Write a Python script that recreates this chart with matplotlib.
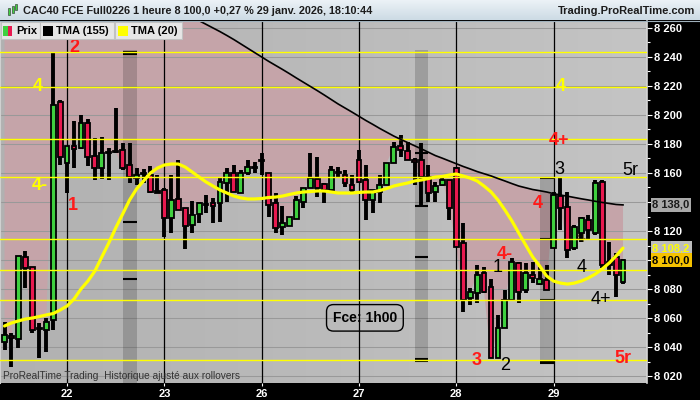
import numpy as np
import matplotlib
matplotlib.use("Agg")
import matplotlib.pyplot as plt
from matplotlib.colors import LinearSegmentedColormap
from matplotlib.patches import Rectangle
from matplotlib.transforms import blended_transform_factory

plt.rcParams["font.family"] = ["Liberation Sans", "DejaVu Sans"]

# bougies horaires CAC40 FCE, du 21 janv. 19h au 29 janv. 18h
opens = [8043.5, 8047.5, 8045.5, 8102.0, 8095.0, 8053.0, 8051.5, 8058.5, 8209.0,
         8167.0, 8178.5, 8177.0, 8194.5, 8171.5, 8163.5, 8174.5, 8175.0, 8176.0,
         8165.5, 8156.5, 8159.5, 8158.5, 8147.0, 8148.5, 8129.0, 8142.0, 8136.0,
         8124.0, 8131.5, 8138.5, 8139.5, 8139.5, 8153.0, 8160.0, 8146.0, 8160.0,
         8163.5, 8169.0, 8160.0, 8139.5, 8122.5, 8123.5, 8128.5, 8140.0, 8149.5,
         8156.0, 8152.5, 8148.5, 8160.5, 8158.5, 8151.5, 8169.0, 8155.0, 8141.5,
         8147.0, 8151.5, 8167.0, 8178.5, 8175.0, 8169.0, 8169.0, 8157.0, 8147.0,
         8151.5, 8155.0, 8163.5, 8112.0, 8074.0, 8077.0, 8091.0, 8081.5, 8032.5,
         8053.0, 8072.5, 8098.0, 8079.5, 8089.5, 8083.5, 8086.0, 8108.5, 8144.0,
         8136.5, 8108.5, 8118.5, 8127.5, 8118.5, 8153.5, 8098.5, 8102.0, 8084.5]
highs = [8057.0, 8049.5, 8102.5, 8106.0, 8095.0, 8056.5, 8060.0, 8242.5, 8210.5,
         8178.5, 8196.0, 8200.0, 8197.0, 8184.0, 8184.5, 8177.0, 8205.0, 8180.5,
         8180.5, 8163.5, 8162.5, 8165.0, 8158.5, 8149.5, 8158.5, 8169.0, 8136.0,
         8140.5, 8140.0, 8145.0, 8143.0, 8157.0, 8163.5, 8165.5, 8162.0, 8169.0,
         8167.5, 8174.0, 8160.0, 8146.0, 8137.0, 8129.5, 8144.0, 8149.5, 8174.0,
         8171.0, 8153.0, 8165.0, 8164.0, 8162.0, 8158.5, 8176.0, 8165.5, 8148.5,
         8158.5, 8167.0, 8181.5, 8186.0, 8181.5, 8170.5, 8180.5, 8165.5, 8154.0,
         8157.0, 8155.0, 8164.0, 8125.5, 8080.5, 8096.5, 8095.0, 8087.0, 8062.0,
         8079.5, 8101.5, 8098.5, 8098.0, 8098.5, 8095.0, 8096.5, 8147.0, 8156.5,
         8147.0, 8124.0, 8129.5, 8131.0, 8155.0, 8155.0, 8112.5, 8105.0, 8100.5]
lows = [8038.0, 8026.0, 8039.5, 8080.5, 8049.5, 8032.5, 8036.5, 8051.5, 8165.5,
        8146.0, 8163.5, 8176.5, 8165.0, 8155.0, 8156.0, 8155.0, 8174.0, 8162.0,
        8153.0, 8151.5, 8153.0, 8146.0, 8146.0, 8116.0, 8118.5, 8134.5, 8107.5,
        8118.5, 8125.5, 8132.5, 8125.5, 8126.0, 8140.0, 8147.0, 8146.0, 8158.5,
        8160.0, 8158.5, 8129.5, 8118.5, 8117.0, 8123.5, 8128.5, 8136.0, 8149.5,
        8143.5, 8139.5, 8148.5, 8156.5, 8150.5, 8147.0, 8153.0, 8127.5, 8132.5,
        8139.5, 8151.5, 8167.0, 8171.0, 8169.0, 8151.5, 8137.0, 8140.0, 8140.0,
        8151.0, 8127.5, 8109.0, 8064.0, 8069.0, 8070.5, 8077.0, 8032.5, 8032.5,
        8053.0, 8072.5, 8070.5, 8077.0, 8084.0, 8082.5, 8079.5, 8108.5, 8120.5,
        8101.5, 8107.0, 8112.5, 8113.5, 8117.0, 8094.5, 8089.5, 8074.5, 8083.5]
closes = [8048.5, 8046.0, 8102.5, 8094.5, 8051.5, 8052.5, 8057.0, 8207.0, 8171.0,
          8178.5, 8176.5, 8194.5, 8171.0, 8163.5, 8174.0, 8174.0, 8174.5, 8163.5,
          8157.0, 8158.5, 8159.0, 8147.0, 8146.5, 8129.0, 8141.5, 8134.5, 8123.5,
          8131.0, 8139.5, 8138.0, 8137.0, 8154.0, 8160.0, 8147.0, 8160.0, 8164.0,
          8164.0, 8168.5, 8138.0, 8122.0, 8125.5, 8129.5, 8141.5, 8149.5, 8156.5,
          8149.5, 8148.5, 8162.0, 8160.0, 8153.0, 8148.5, 8154.0, 8141.5, 8148.5,
          8151.5, 8167.0, 8178.0, 8176.0, 8169.0, 8167.5, 8157.0, 8146.0, 8151.0,
          8155.5, 8136.0, 8109.0, 8072.5, 8078.0, 8089.5, 8078.0, 8032.5, 8053.0,
          8072.5, 8098.5, 8078.0, 8091.0, 8087.5, 8087.0, 8079.5, 8145.0, 8136.0,
          8107.0, 8122.5, 8129.0, 8120.5, 8153.0, 8096.5, 8096.5, 8089.5, 8100.0]

# moyennes triangulaires (la TMA 155 sort du cadre au début)
tma155 = [None] * 28 + [
    8265.0, 8262.5, 8260.0, 8257.5, 8254.8, 8252.0, 8249.0, 8246.0, 8243.0,
    8240.0, 8237.0, 8234.2, 8231.4, 8228.5, 8225.5, 8222.6, 8219.7, 8216.8,
    8213.8, 8210.7, 8207.6, 8204.8, 8202.0, 8199.1, 8196.2, 8193.5, 8190.7,
    8188.1, 8185.5, 8183.2, 8181.0, 8178.8, 8176.6, 8174.3, 8172.0, 8170.2,
    8168.3, 8166.4, 8164.5, 8162.8, 8161.0, 8159.5, 8158.0, 8156.2, 8154.5,
    8152.7, 8151.0, 8149.8, 8148.6, 8147.8, 8146.9, 8145.8, 8144.8, 8144.0,
    8143.1, 8142.2, 8141.4, 8140.5, 8139.7, 8139.0, 8138.3, 8138.0]
tma20 = [8054.5, 8056.6, 8058.0, 8059.3, 8060.0, 8061.0, 8062.1, 8063.1, 8065.5,
         8068.3, 8073.1, 8080.0, 8085.5, 8092.4, 8102.1, 8111.7, 8122.1, 8131.7,
         8141.4, 8149.0, 8154.5, 8160.0, 8163.4, 8165.5, 8166.2, 8166.2, 8164.1,
         8160.7, 8157.2, 8153.8, 8151.0, 8148.3, 8146.2, 8144.1, 8142.8, 8142.1,
         8142.1, 8142.4, 8143.1, 8143.4, 8144.1, 8145.2, 8146.2, 8146.9, 8147.2,
         8147.6, 8147.6, 8146.9, 8146.2, 8146.2, 8146.2, 8146.6, 8146.9, 8146.9,
         8147.9, 8149.3, 8151.0, 8152.1, 8153.1, 8154.5, 8155.2, 8156.2, 8157.2,
         8157.6, 8158.6, 8159.3, 8157.9, 8156.5, 8154.5, 8151.0, 8147.0, 8141.4,
         8134.5, 8127.0, 8118.6, 8110.3, 8102.1, 8095.9, 8089.0, 8085.5, 8084.1,
         8083.4, 8084.1, 8085.5, 8087.6, 8090.3, 8093.8, 8097.9, 8102.8, 8108.2]

levels = [8243.4, 8219.3, 8183.4, 8157.2, 8114.5, 8093.1, 8072.4, 8031.0]
day_starts = [9, 23, 37, 51, 65, 79]
day_labels = ["22", "23", "26", "27", "28", "29"]
bands = [(17, 19), (59, 61), (77, 79)]
band_tops = [8244.8, 8244.8, 8156.5]
band_bottoms = [8015.2, 8029.6, 8029.2]
band_marks = [[8243.6, 8242.1, 8126.2, 8086.9],
              [8173.8, 8137.2, 8102.1, 8031.5, 8030.1],
              [8156.3, 8114.5, 8072.4, 8030.3, 8029.1]]
last_tma155 = 8138.0
last_tma20 = 8108.2
last_price = 8100.0
hidden_ticks = [8140, 8100]   # masqués par les étiquettes de valeur

notes = [
    ("4", 4.8, 8219.3, "#ffff00", "bold"),
    ("4-", 5.1, 8151.7, "#ffff00", "bold"),
    ("2", 10.0, 8246.2, "#ff1a1a", "bold"),
    ("1", 9.9, 8137.9, "#ff1a1a", "bold"),
    ("4", 80.0, 8219.3, "#ffff00", "bold"),
    ("4+", 79.8, 8182.7, "#ff1a1a", "bold"),
    ("3", 79.9, 8162.1, "black", "normal"),
    ("5r", 90.0, 8161.4, "black", "normal"),
    ("4", 76.8, 8139.3, "#ff1a1a", "bold"),
    ("4-", 72.0, 8104.1, "#ff1a1a", "bold"),
    ("1", 70.9, 8094.5, "black", "normal"),
    ("4", 83.0, 8094.5, "black", "normal"),
    ("4+", 85.8, 8073.1, "black", "normal"),
    ("3", 68.0, 8031.0, "#ff1a1a", "bold"),
    ("2", 72.0, 8027.5, "black", "normal"),
    ("5r", 89.0, 8032.4, "#ff1a1a", "bold"),
]

W, H = 700, 400
GREEN = "#3fd03f"
RED = "#e8194f"
PINK = "#c5a4a9"


def px_rect(x, y, w, h):
    return [x / W, 1 - (y + h) / H, w / W, h / H]


def fmt(v):
    return "" if v in hidden_ticks else f"{v:,}".replace(",", " ")


def main():
    x = np.arange(len(closes))
    o = np.array(opens)
    hi = np.array(highs)
    lo = np.array(lows)
    c = np.array(closes)
    t155 = np.array([np.nan if v is None else v for v in tma155])

    fig = plt.figure(figsize=(7, 4), dpi=100, facecolor="black")
    ax = fig.add_axes(px_rect(0, 21, 647, 362))

    # fond dégradé
    bg = LinearSegmentedColormap.from_list("bg", ["#b1b1b1", "#c4c4c4"])
    ax.imshow(np.linspace(0, 1, 256)[None, :], cmap=bg, extent=[0, 1, 0, 1],
              transform=ax.transAxes, aspect="auto", zorder=0)
    xmin, xmax = -0.65, 92.45
    ax.set_xlim(xmin, xmax)
    ax.set_ylim(8015.2, 8264.8)

    # zone rose entre TMA 155 et le prix
    upper = np.where(np.isnan(t155), 8300, t155)
    ax.fill_between(x, c, upper, where=c < upper, interpolate=True,
                    color=PINK, lw=0, zorder=1)

    for (a, b), top, bot, marks in zip(bands, band_tops, band_bottoms, band_marks):
        ax.add_patch(Rectangle((a, bot), b - a, top - bot, color="black",
                               alpha=0.17, lw=0, zorder=1.6))
        ax.hlines(marks, a, b, color="black", lw=1.5, zorder=3.5)

    ax.set_axisbelow("line")
    ax.yaxis.grid(True, color="#999999", lw=0.75)

    for d in day_starts:
        ax.axvline(d, color="black", lw=0.9, zorder=2.6)
    for lv in levels:
        ax.axhline(lv, color="#ffff00", lw=1.0, zorder=4.5)

    ax.text(82.9, 8115.2, "4", color="#5e5120", fontsize=13, ha="center",
            va="center", zorder=3.9)

    # bougies
    ax.vlines(x, lo, hi, color="black", lw=2.8, zorder=4)
    for i in range(len(x)):
        body = abs(c[i] - o[i])
        col = GREEN if c[i] >= o[i] else RED
        if body < 1.2:
            col = "black"
        ax.add_patch(Rectangle((x[i] - 0.35, min(o[i], c[i])), 0.7, max(body, 0.8),
                               facecolor=col, edgecolor="black", lw=1.3, zorder=4.1))

    ax.plot(x, t155, color="black", lw=1.2, zorder=5)
    ax.plot(x, tma20, color="#ffff00", lw=2.3, zorder=5.5, solid_capstyle="round")

    for s, ix, p, col, wt in notes:
        ax.text(ix, p, s, color=col, fontsize=13, fontweight=wt,
                ha="center", va="center", zorder=7)

    ax.text(0.564, 0.18, "Fce: 1h00", transform=ax.transAxes, fontsize=10,
            fontweight="bold", color="black", ha="center", va="center", zorder=7,
            bbox=dict(boxstyle="round,pad=0.45,rounding_size=0.5", fc="none",
                      ec="black", lw=1.0))
    ax.text(0.005, 0.019, "ProRealTime Trading  Historique ajusté aux rollovers",
            transform=ax.transAxes, fontsize=7.3, color="#333333",
            ha="left", va="center", zorder=7)

    # axes
    ax.yaxis.tick_right()
    yt = np.arange(8020, 8261, 20)
    ax.set_yticks(yt)
    ax.set_yticklabels([fmt(v) for v in yt])
    ax.set_yticks(np.arange(8020, 8265, 10), minor=True)
    ax.tick_params(axis="y", which="major", colors="white", length=3.6,
                   width=0.8, pad=1.5, labelsize=8)
    ax.tick_params(axis="y", which="minor", colors="white", length=2.2, width=0.8)
    ax.set_xticks(day_starts)
    ax.set_xticklabels(day_labels)
    ax.tick_params(axis="x", colors="white", length=2.5, width=0.8, pad=2,
                   labelsize=8)
    for lbl in ax.get_yticklabels() + ax.get_xticklabels():
        lbl.set_fontweight("bold")
    ax.spines["top"].set_visible(False)
    ax.spines["bottom"].set_visible(False)
    ax.spines["left"].set_color("#d0d0d0")
    ax.spines["right"].set_color("#d4d4d4")
    ax.spines["right"].set_linewidth(1.2)

    # étiquettes de valeur sur l'axe
    tr = blended_transform_factory(ax.transAxes, ax.transData)
    tags = [(last_tma155, "#a9a9a9", "#1a1a1a"),
            (last_tma20, "#bdbdbd", "#ffff00"),
            (last_price, "#f5c200", "black")]
    for v, fc, tc in tags:
        ax.text(1 + 5.5 / 647, v, f"{v:,.1f}".replace(",", " ").replace(".", ","),
                transform=tr, color=tc, fontsize=8, fontweight="bold",
                ha="left", va="center", clip_on=False, zorder=8,
                bbox=dict(boxstyle="square,pad=0.15", fc=fc, ec="none"))

    # bandeau titre et légende
    ov = fig.add_axes([0, 0, 1, 1])
    ov.patch.set_alpha(0)
    tb = LinearSegmentedColormap.from_list("tb", ["#edf3f7", "#cddbe5"])
    ov.imshow(np.linspace(0, 1, 32)[:, None], cmap=tb, extent=[0, 700, 20.5, 0],
              aspect="auto")
    ov.set_xlim(0, 700)
    ov.set_ylim(400, 0)
    ov.axis("off")
    ov.plot([0, 700], [20.5, 20.5], color="#9fb0bb", lw=0.8)
    ov.add_patch(Rectangle((8, 8), 2, 7, fc=GREEN, ec="#2a2a2a", lw=0.4))
    ov.add_patch(Rectangle((11.5, 6), 2, 7, fc=GREEN, ec="#2a2a2a", lw=0.4))
    ov.add_patch(Rectangle((15, 4), 2, 6, fc=GREEN, ec="#2a2a2a", lw=0.4))
    ov.text(23, 10.5, "CAC40 FCE Full0226 1 heure 8 100,0 +0,27 % 29 janv. 2026, 18:10:44",
            fontsize=7.8, fontweight="bold", color="#1c1c1c", ha="left", va="center")
    ov.text(695, 10.5, "Trading.ProRealTime.com", fontsize=8, fontweight="bold",
            color="#1c1c1c", ha="right", va="center")

    legend = [(0.5, 39, "Prix"), (40, 74, "TMA (155)"), (115, 67, "TMA (20)")]
    for lx, lw_, label in legend:
        ov.add_patch(Rectangle((lx, 21.5), lw_, 17.5, fc="#e6e6e6", ec="#c2c2c2", lw=0.8))
        ov.text(lx + 16, 30.5, label, fontsize=8, fontweight="bold",
                color="black", ha="left", va="center")
    ov.add_patch(Rectangle((3, 26), 4.5, 10, fc=GREEN, lw=0))
    ov.add_patch(Rectangle((7.5, 26), 4.5, 10, fc=RED, lw=0))
    ov.add_patch(Rectangle((43, 26), 10, 10, fc="black", lw=0))
    ov.add_patch(Rectangle((118, 26), 10, 10, fc="#ffff00", lw=0))

    fig.savefig("out.png", dpi=100, facecolor="black")
    plt.close(fig)


if __name__ == "__main__":
    main()
